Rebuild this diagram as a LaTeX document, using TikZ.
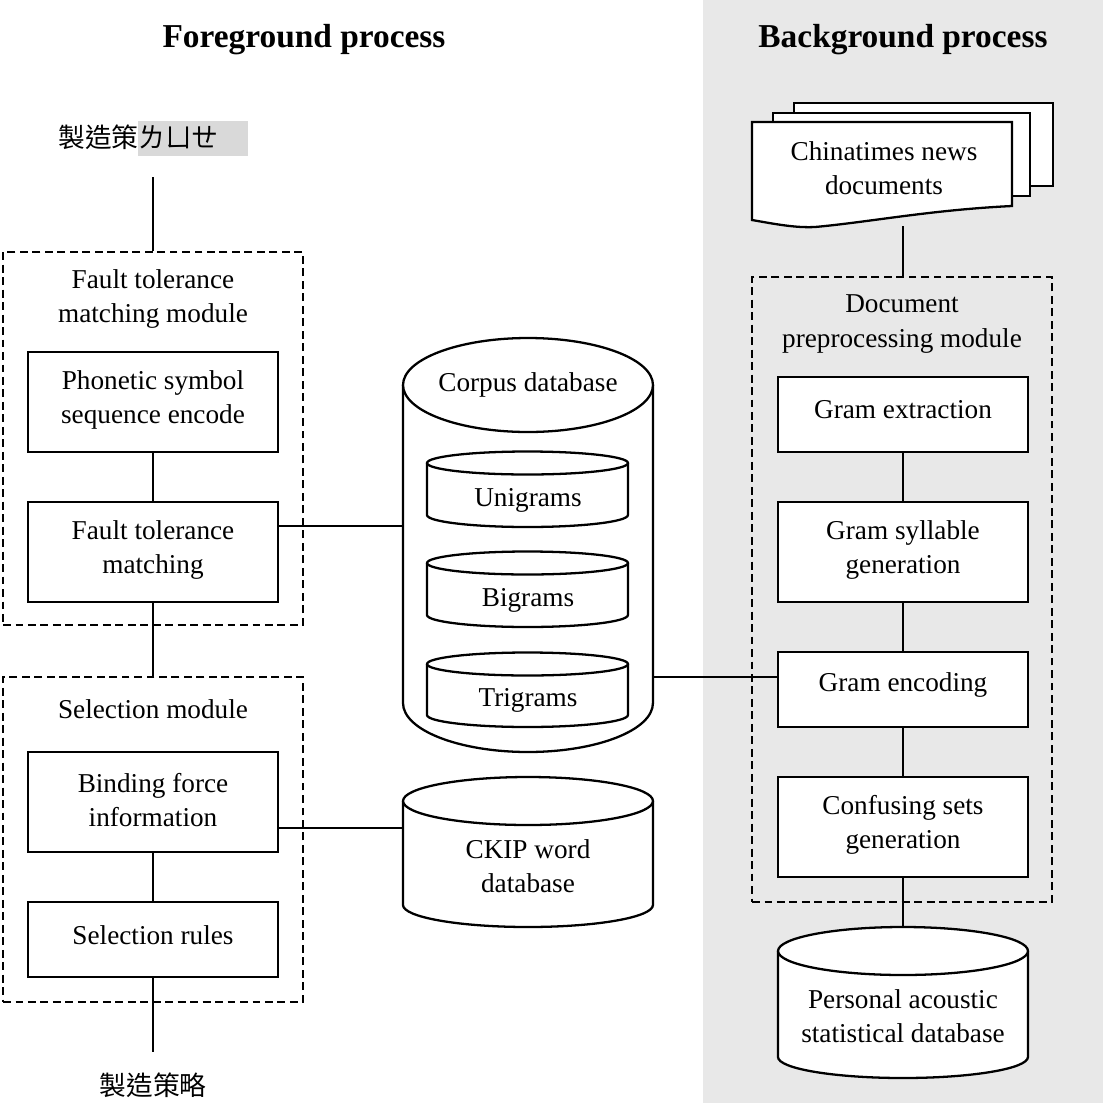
\documentclass[tikz,border=0pt]{standalone}
\usepackage{fontspec}
\setmainfont{Liberation Serif}
\newfontfamily\cjkfont{Noto Sans CJK TC}
\usetikzlibrary{calc}
\definecolor{bggray}{RGB}{232,232,232}
\definecolor{hlgray}{RGB}{217,217,217}
\newcommand\lblfont{\fontsize{15.5pt}{19.4pt}\selectfont}
\newcommand\ttlfont{\fontsize{19pt}{23pt}\selectfont\bfseries}
\newcommand\cjklbl{\cjkfont\fontsize{15.2pt}{18pt}\selectfont}
\begin{document}
\begin{tikzpicture}[x=0.02cm, y=-0.02cm,
  procbox/.style={draw, line width=1.3pt, fill=white, minimum width=5cm, inner sep=0pt},
  modbox/.style={draw, line width=1.2pt, dash pattern=on 4.5pt off 2.6pt, minimum width=6cm, inner sep=0pt},
  conn/.style={line width=1.1pt},
  shp/.style={line width=1.3pt, fill=white},
  lbl/.style={font=\lblfont, align=center, inner sep=0pt, yshift=-0.06cm},
  ttl/.style={font=\ttlfont, inner sep=0pt, yshift=-0.07cm},
  cjk/.style={font=\cjklbl, inner sep=0pt},
  area/.style={inner sep=0pt, outer sep=0pt, minimum width=5cm}]

\useasboundingbox (0,0) rectangle (1103,1103);
\fill[bggray] (703,0) rectangle (1103,1103);

% titles
\node[ttl] (fgt) at (304,36) {Foreground process};
\node[ttl] (bgt) at (903,36) {Background process};

% input / output labels
\fill[hlgray] (138,121) rectangle (248,156);
\node[cjk, anchor=west] (inl) at (58,137) {製造策ㄌㄩㄝ};
\node[cjk] (outl) at (153,1085) {製造策略};

% module frames
\node[modbox, minimum height=7.46cm] (ftmod) at (153,438.5) {};
\node[modbox, minimum height=6.5cm] (selmod) at (153,839.5) {};
\node[modbox, minimum height=12.5cm] (docmod) at (902,589.5) {};

\node[lbl] (ftmodt) at (153,296) {Fault tolerance\\matching module};
\node[lbl] (selmodt) at (153,706) {Selection module};
\node[lbl] (docmodt) at (902,321) {Document\\preprocessing module};

% process boxes (left)
\node[procbox, minimum height=2cm] (pse) at (153,402) {};
\node[procbox, minimum height=2cm] (ftm) at (153,552) {};
\node[procbox, minimum height=2cm] (bfi) at (153,802) {};
\node[procbox, minimum height=1.5cm] (sr) at (153,939.5) {};
\node[lbl] (pset) at (153,397) {Phonetic symbol\\sequence encode};
\node[lbl] (ftmt) at (153,547) {Fault tolerance\\matching};
\node[lbl] (bfit) at (153,797) {Binding force\\information};
\node[lbl] (srt) at (153,932) {Selection rules};

% process boxes (right)
\node[procbox, minimum height=1.5cm] (ge) at (903,414.5) {};
\node[procbox, minimum height=2cm] (gsg) at (903,552) {};
\node[procbox, minimum height=1.5cm] (genc) at (903,689.5) {};
\node[procbox, minimum height=2cm] (csg) at (903,827) {};
\node[lbl] (get) at (903,407) {Gram extraction};
\node[lbl] (gsgt) at (903,547) {Gram syllable\\generation};
\node[lbl] (genct) at (903,682) {Gram encoding};
\node[lbl] (csgt) at (903,822) {Confusing sets\\generation};

% documents
\draw[shp] (794,103) rectangle (1053,186);
\draw[shp] (773,113) rectangle (1030,196);
\draw[shp] (752,122) -- (1012,122) -- (1012,206) .. controls (930,210) and (870,222) .. (815,227) .. controls (795,228) and (775,224) .. (752,220) -- cycle;
\node[lbl] (docs) at (884,165) {Chinatimes news\\documents};

% corpus database
\node[area, minimum height=8.28cm] (corpus) at (528,545) {};
\draw[shp] (403,385) -- (403,703) arc[start angle=180, end angle=360, x radius=2.5cm, y radius=0.98cm] -- (653,385);
\draw[shp] (528,385) ellipse[x radius=2.5cm, y radius=0.94cm];
\node[lbl] (corpust) at (528,382) {Corpus database};

\draw[shp] (427,463) -- (427,515) arc[start angle=180, end angle=360, x radius=2.01cm, y radius=0.24cm] -- (628,463);
\draw[shp] (527.5,463) ellipse[x radius=2.01cm, y radius=0.23cm];
\node[lbl] (uni) at (528,497) {Unigrams};

\draw[shp] (427,563) -- (427,615) arc[start angle=180, end angle=360, x radius=2.01cm, y radius=0.24cm] -- (628,563);
\draw[shp] (527.5,563) ellipse[x radius=2.01cm, y radius=0.23cm];
\node[lbl] (bi) at (528,597) {Bigrams};

\draw[shp] (427,664) -- (427,715) arc[start angle=180, end angle=360, x radius=2.01cm, y radius=0.24cm] -- (628,664);
\draw[shp] (527.5,664) ellipse[x radius=2.01cm, y radius=0.23cm];
\node[lbl] (tri) at (528,697) {Trigrams};

% CKIP database
\node[area, minimum height=3cm] (ckip) at (528,852) {};
\draw[shp] (403,801) -- (403,905) arc[start angle=180, end angle=360, x radius=2.5cm, y radius=0.44cm] -- (653,801);
\draw[shp] (528,801) ellipse[x radius=2.5cm, y radius=0.48cm];
\node[lbl] (ckipt) at (528,863) {CKIP word\\database};

% personal database
\node[area, minimum height=3.02cm] (pers) at (903,1002.5) {};
\draw[shp] (778,951) -- (778,1057) arc[start angle=180, end angle=360, x radius=2.5cm, y radius=0.42cm] -- (1028,951);
\draw[shp] (903,951) ellipse[x radius=2.5cm, y radius=0.48cm];
\node[lbl] (perst) at (903,1013) {Personal acoustic\\statistical database};

% connectors
\coordinate (topend) at (153,177);
\coordinate (botend) at (153,1052);
\coordinate (docend) at (903,226);
\draw[conn] (topend) -- (ftmod.north);
\draw[conn] (pse.south) -- (ftm.north);
\draw[conn] (ftm.south) -- (selmod.north);
\draw[conn] (bfi.south) -- (sr.north);
\draw[conn] (sr.south) -- (botend);
\draw[conn] (docend) -- (docend |- docmod.north);
\draw[conn] (ge.south) -- (gsg.north);
\draw[conn] (gsg.south) -- (genc.north);
\draw[conn] (genc.south) -- (csg.north);
\draw[conn] (csg.south) -- (pers.north);

\coordinate (a1) at ($(ftm.north east)!0.25!(ftm.south east)$);
\draw[conn] (a1) -- (a1 -| corpus.west);
\coordinate (a2) at ($(bfi.north east)!0.75!(bfi.south east)$);
\draw[conn] (a2) -- (a2 -| ckip.west);
\coordinate (a3) at ($(genc.north west)!1/3!(genc.south west)$);
\draw[conn] (a3 -| corpus.east) -- (a3);
\end{tikzpicture}
\end{document}
